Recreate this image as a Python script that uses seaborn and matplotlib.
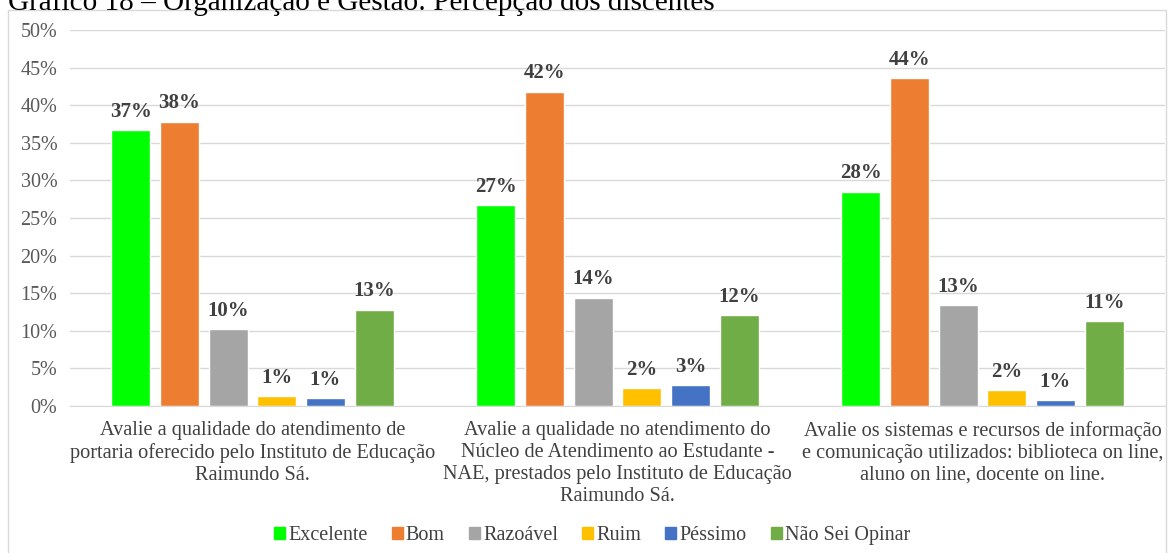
import pandas as pd
import matplotlib.pyplot as plt
import seaborn as sns
from matplotlib.patches import Rectangle

# Data
questions = [
    "Avalie a qualidade do atendimento de\nportaria oferecido pelo Instituto de Educação\nRaimundo Sá.",
    "Avalie a qualidade no atendimento do\nNúcleo de Atendimento ao Estudante -\nNAE, prestados pelo Instituto de Educação\nRaimundo Sá.",
    "Avalie os sistemas e recursos de informação\ne comunicação utilizados: biblioteca on line,\naluno on line, docente on line.",
]
answers = ["Excelente", "Bom", "Razoável", "Ruim", "Péssimo", "Não Sei Opinar"]
excelente = [0.367, 0.267, 0.285]
bom = [0.378, 0.418, 0.436]
razoavel = [0.102, 0.144, 0.134]
ruim = [0.013, 0.024, 0.021]
pessimo = [0.010, 0.028, 0.008]
nao_sei = [0.128, 0.121, 0.113]
colors = ["#00FF00", "#ED7D31", "#A5A5A5", "#FFC000", "#4472C4", "#70AD47"]

series = [excelente, bom, razoavel, ruim, pessimo, nao_sei]
rows = []
for ans, vals in zip(answers, series):
    for q, v in zip(questions, vals):
        rows.append({"Pergunta": q, "Resposta": ans, "Valor": v})
df = pd.DataFrame(rows)

sns.set_style("white")
plt.rcParams["font.family"] = ["Liberation Serif", "DejaVu Serif"]

fig = plt.figure(figsize=(11.7, 5.53), dpi=100)
ax = fig.add_axes([0.0598, 0.2658, 0.9359, 0.68])

sns.barplot(data=df, x="Pergunta", y="Valor", hue="Resposta", order=questions,
            hue_order=answers, palette=colors, gap=0.2, width=0.8, ax=ax,
            legend=False, saturation=1, errorbar=None)

ax.set_ylim(0, 0.5)
ax.set_xlim(-0.5, 2.5)
ax.set_yticks([i * 0.05 for i in range(11)])
ax.set_yticklabels([f"{i * 5}%" for i in range(11)], color="#595959", fontsize=14.5)
ax.yaxis.grid(True, color="#D9D9D9", linewidth=1)
ax.set_axisbelow(True)
ax.tick_params(axis="y", length=0, pad=9)
ax.tick_params(axis="x", length=0, pad=11)
ax.set_xticklabels(questions, fontsize=14.6, color="#404040", linespacing=1.2)
ax.set_xlabel("")
ax.set_ylabel("")
for s in ["top", "right", "left"]:
    ax.spines[s].set_visible(False)
ax.spines["bottom"].set_color("#D9D9D9")

for cont in ax.containers:
    ax.bar_label(cont, labels=[f"{v * 100:.0f}%" for v in cont.datavalues],
                 padding=6, fontsize=15, fontweight="bold", color="#404040")

handles = [Rectangle((0, 0), 1, 1, color=c) for c in colors]
fig.legend(handles, answers, loc="center", bbox_to_anchor=(0.506, 0.032), ncol=6,
           frameon=False, fontsize=14.5, handlelength=0.55, handleheight=0.55,
           handletextpad=0.15, columnspacing=1.2, labelcolor="#404040")

# outer chart border
fig.patches.append(Rectangle((0.007, -0.01), 0.99, 0.992, transform=fig.transFigure,
                             fill=False, edgecolor="#D9D9D9", linewidth=1))
# caption at the top, clipped by the image edge as in the source
fig.text(0.007, 0.996, "Gráfico 18 – Organização e Gestão: Percepção dos discentes",
         fontsize=21, va="center", ha="left", color="black")

fig.savefig("out.png", dpi=100)
